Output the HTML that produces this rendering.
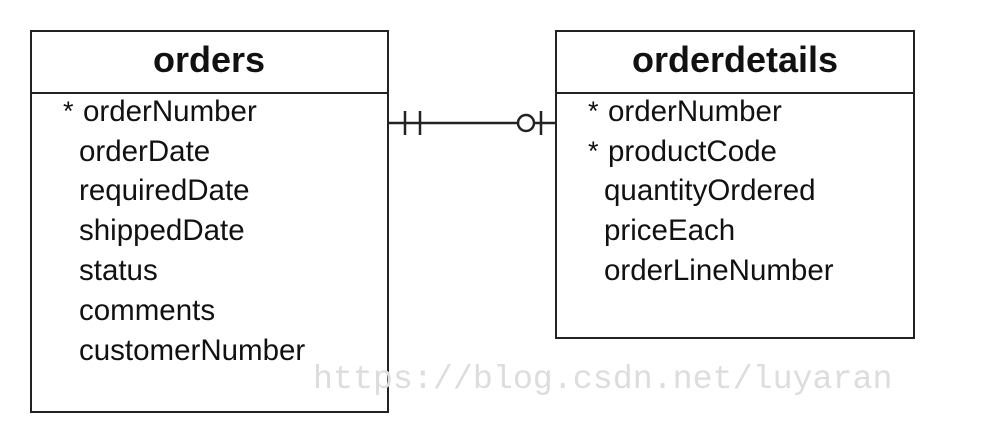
<!DOCTYPE html>
<html><head><style>
body{margin:0;background:#fff;}
svg text{font-family:"Liberation Sans",Arial,sans-serif;fill:#111;}
</style></head><body>
<svg width="994" height="434" xmlns="http://www.w3.org/2000/svg">
<rect x="31" y="31" width="357" height="381" fill="none" stroke="#222" stroke-width="2"/>
<line x1="31" y1="93" x2="388" y2="93" stroke="#222" stroke-width="2"/>
<rect x="556" y="31" width="358" height="307" fill="none" stroke="#222" stroke-width="2"/>
<line x1="556" y1="93" x2="914" y2="93" stroke="#222" stroke-width="2"/>
<text x="209" y="72" font-size="36" font-weight="bold" text-anchor="middle">orders</text>
<text x="735" y="72" font-size="36" font-weight="bold" text-anchor="middle">orderdetails</text>
<g font-size="27">
<text x="63" y="120">*</text><text x="83" y="121" font-size="29.5">orderNumber</text>
<text x="79" y="161" font-size="29.5">orderDate</text>
<text x="79" y="200" font-size="29.5">requiredDate</text>
<text x="79" y="240" font-size="29.5">shippedDate</text>
<text x="79" y="280" font-size="29.5">status</text>
<text x="79" y="320" font-size="29.5">comments</text>
<text x="79" y="360" font-size="29.5">customerNumber</text>
<text x="588" y="120">*</text><text x="608" y="121" font-size="29.5">orderNumber</text>
<text x="588" y="160">*</text><text x="608" y="161" font-size="29.5">productCode</text>
<text x="604" y="200" font-size="29.5">quantityOrdered</text>
<text x="604" y="240" font-size="29.5">priceEach</text>
<text x="604" y="280" font-size="29.5">orderLineNumber</text>
</g>
<g stroke="#222" stroke-width="2.5" fill="none">
<line x1="388" y1="123" x2="556" y2="123"/>
<line x1="405" y1="111" x2="405" y2="135"/>
<line x1="420" y1="111" x2="420" y2="135"/>
<circle cx="526" cy="123" r="8" fill="#fff"/>
<line x1="541" y1="111" x2="541" y2="135"/>
</g>
<text x="313" y="388" font-size="33.3" style="font-family:'Liberation Mono',monospace;fill:#ddd">https://blog.csdn.net/luyaran</text>
</svg>
</body></html>
